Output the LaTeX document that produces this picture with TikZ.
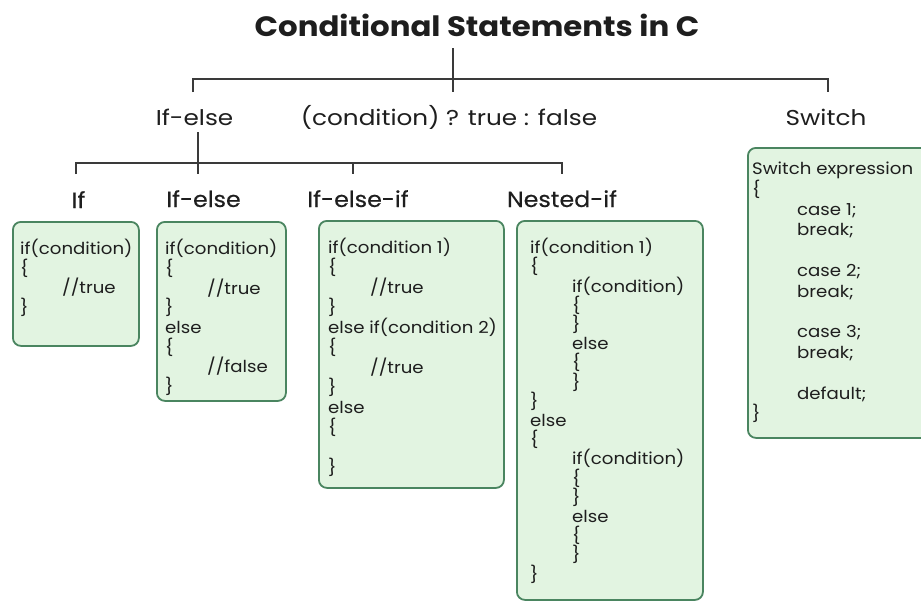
\documentclass[tikz,border=0pt]{standalone}
\usepackage{fontspec}
\setmainfont{Poppins}[FakeStretch=1.1]
\newfontfamily\titlefont{Poppins}[FakeStretch=1.1]
\newfontfamily\lvlonefont{Poppins}[FakeStretch=1.15]
\newfontfamily\headfont{Poppins}[FakeBold=0.35, FakeStretch=1.08]
\definecolor{boxfill}{HTML}{E2F4E1}
\definecolor{boxedge}{HTML}{4A8560}
\definecolor{ink}{HTML}{1E1E1E}
\definecolor{wire}{HTML}{3A3A3A}
\tikzset{
  tree/.style={draw=wire, line width=2pt},
  codebox/.style={draw=boxedge, fill=boxfill, line width=1.8pt, rounded corners=8pt,
                  inner sep=0pt, anchor=north west},
  code/.style={align=left, inner sep=0pt, anchor=north west, text=ink},
  lvlone/.style={anchor=base, inner sep=0pt, text=ink, font=\lvlonefont\fontsize{21.5}{24}\selectfont},
  lvltwo/.style={anchor=base, inner sep=0pt, text=ink, font=\headfont\fontsize{22}{26}\selectfont},
}
\newcommand{\ind}{\hspace*{42pt}}
\begin{document}
\begin{tikzpicture}[x=1pt,y=-1pt]
\useasboundingbox (0,0) rectangle (921,608);
\fill[white] (0,0) rectangle (921,608);
\begin{scope}
\clip (0,0) rectangle (921,608);

% title
\node[anchor=base, inner sep=0pt, text=ink, font=\titlefont\bfseries\fontsize{28}{30}\selectfont]
  (title) at (477,36) {Conditional Statements in C};

% first level labels
\node[lvlone] (ifelse) at (194.5,125) {If-else};
\node[lvlone] (ternary) at (449,125) {(condition) ? true : false};
\node[lvlone] (switch) at (826,125) {Switch};

% second level labels
\node[lvltwo] (lif) at (78.5,208) {If};
\node[lvltwo] (lifelse) at (203.5,207) {If-else};
\node[lvltwo] (lifelseif) at (358,207) {If-else-if};
\node[lvltwo] (lnested) at (562,207) {Nested-if};

% first level tree
\coordinate (r0) at (453,48);
\coordinate (r1) at (453,92);
\coordinate (a0) at (193,79);
\coordinate (a1) at (193,92);
\coordinate (c0) at (828,79);
\coordinate (c1) at (828,92);
\draw[tree] (r0) -- (r1);
\draw[tree] (a1) -- (a0) -- (c0) -- (c1);

% second level tree
\coordinate (s0) at (198,132);
\coordinate (s1) at (198,174);
\coordinate (p0) at (76,163);
\coordinate (p1) at (76,174);
\coordinate (q0) at (353,163);
\coordinate (q1) at (353,174);
\coordinate (d0) at (562,163);
\coordinate (d1) at (562,174);
\draw[tree] (s0) -- (s1);
\draw[tree] (p1) -- (p0) -- (d0) -- (d1);
\draw[tree] (q0) -- (q1);

% boxes
\node[codebox, minimum width=126pt, minimum height=124pt] (boxif) at (12,221) {};
\node[codebox, minimum width=129pt, minimum height=179pt] (boxifelse) at (156,221) {};
\node[codebox, minimum width=185pt, minimum height=267pt] (boxifelseif) at (318,220) {};
\node[codebox, minimum width=186pt, minimum height=379pt] (boxnested) at (516,220) {};
\node[codebox, minimum width=200pt, minimum height=290pt] (boxswitch) at (747,147) {};

% code text
\node[code, font=\fontsize{16.5}{19.5}\selectfont] (txif)
  at ([xshift=8pt,yshift=-18pt]boxif.north west)
  {if(condition)\\ \{\\ \ind//true\\ \}};
\node[code, font=\fontsize{16.5}{19.7}\selectfont] (txifelse)
  at ([xshift=9pt,yshift=-18pt]boxifelse.north west)
  {if(condition)\\ \{\\ \ind//true\\ \}\\ else\\ \{\\ \ind//false\\ \}};
\node[code, font=\fontsize{16.5}{20}\selectfont] (txifelseif)
  at ([xshift=10pt,yshift=-18pt]boxifelseif.north west)
  {if(condition 1)\\ \{\\ \ind//true\\ \}\\ else if(condition 2)\\ \{\\ \ind//true\\ \}\\ else\\ \{\\ \mbox{}\\ \}};
\node[code, font=\fontsize{16.5}{19.2}\selectfont] (txnested)
  at ([xshift=14pt,yshift=-18pt]boxnested.north west)
  {if(condition 1)\\ \{\\ \ind if(condition)\\ \ind\{\\ \ind\}\\ \ind else\\ \ind\{\\ \ind\}\\ \}\\
   else\\ \{\\ \ind if(condition)\\ \ind\{\\ \ind\}\\ \ind else\\ \ind\{\\ \ind\}\\ \}};
\node[code, font=\fontsize{16.5}{20.4}\selectfont] (txswitch)
  at ([xshift=5pt,yshift=-15pt]boxswitch.north west)
  {Switch expression\\ \{\\ \hspace*{45pt}case 1;\\ \hspace*{45pt}break;\\ \mbox{}\\
   \hspace*{45pt}case 2;\\ \hspace*{45pt}break;\\ \mbox{}\\ \hspace*{45pt}case 3;\\ \hspace*{45pt}break;\\ \mbox{}\\
   \hspace*{45pt}default;\\ \}};
\end{scope}
\end{tikzpicture}
\end{document}
